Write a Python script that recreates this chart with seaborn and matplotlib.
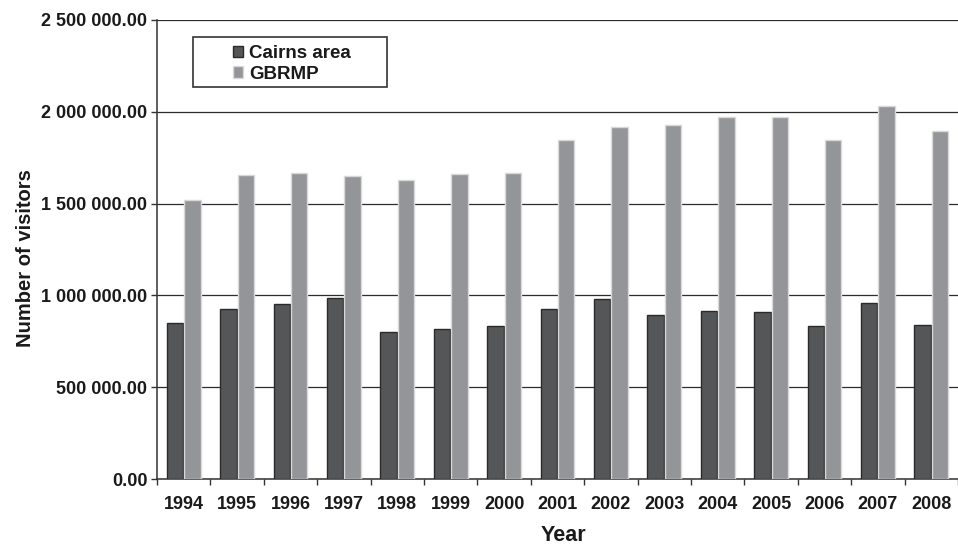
import matplotlib
matplotlib.use("Agg")
import matplotlib.pyplot as plt
from matplotlib.patches import Patch, Rectangle
from matplotlib.ticker import FuncFormatter, MultipleLocator
import seaborn as sns
import pandas as pd

# Visitor numbers by year
years = [str(y) for y in range(1994, 2009)]
cairns_area = [848000, 926000, 952000, 988000, 799000, 815000, 832000, 926000,
               981000, 895000, 917000, 910000, 832000, 959000, 839000]
gbrmp = [1518000, 1658000, 1667000, 1651000, 1629000, 1660000, 1667000, 1849000,
         1918000, 1927000, 1974000, 1974000, 1847000, 2030000, 1894000]
series_names = ["Cairns area", "GBRMP"]

df = pd.DataFrame({
    "Year": years * 2,
    "Visitors": cairns_area + gbrmp,
    "Series": [series_names[0]] * len(years) + [series_names[1]] * len(years),
})

sns.set_theme(style="white")
plt.rcParams["font.family"] = ["Liberation Sans", "DejaVu Sans"]
plt.rcParams["font.weight"] = "bold"

dark = "#555658"
light = "#939598"

fig = plt.figure(figsize=(9.58, 5.44), dpi=100)
ax = fig.add_axes([157 / 958, 1 - 479 / 544, 801 / 958, 459 / 544])

sns.barplot(data=df, x="Year", y="Visitors", hue="Series",
            palette=[dark, light], width=0.65, gap=0.06,
            saturation=1, legend=False, ax=ax, zorder=3)

# Bar outlines: dark rim on Cairns bars, pale rim on GBRMP bars
for patch in ax.containers[0]:
    patch.set_edgecolor("#2a2a2a")
    patch.set_linewidth(1.0)
for patch in ax.containers[1]:
    patch.set_edgecolor("#d8d8d8")
    patch.set_linewidth(1.0)

ax.set_xlim(-0.5, len(years) - 0.5)
ax.set_ylim(0, 2500000)
ax.yaxis.set_major_locator(MultipleLocator(500000))


def fmt(v, _):
    return f"{v:,.2f}".replace(",", " ")


ax.yaxis.set_major_formatter(FuncFormatter(fmt))

# Horizontal gridlines (none at the top limit)
ax.grid(axis="y", color="#2b2b2b", linewidth=0.9, zorder=0)
ax.grid(axis="x", visible=False)
ax.set_axisbelow(True)
fig.canvas.draw()
ax.yaxis.get_gridlines()[-1].set_visible(False)
ax.yaxis.get_gridlines()[0].set_visible(False)

for side in ["top", "right"]:
    ax.spines[side].set_visible(False)
for side in ["left", "bottom"]:
    ax.spines[side].set_color("#333333")
    ax.spines[side].set_linewidth(1.1)

# Year labels centred under each group, tick marks between groups
ax.set_xticks(range(len(years)))
ax.set_xticklabels(years)
ax.set_xticks([i - 0.5 for i in range(len(years) + 1)], minor=True)
ax.tick_params(axis="x", which="major", length=0, pad=12, labelsize=13)
ax.tick_params(axis="x", which="minor", length=4, width=1, color="#333333",
               direction="out", bottom=True)
ax.tick_params(axis="y", length=4, width=1, color="#333333", direction="out",
               left=True, pad=3, labelsize=13)
for lbl in ax.get_xticklabels() + ax.get_yticklabels():
    lbl.set_fontweight("bold")
    lbl.set_color("#1a1a1a")

ax.set_xlabel("Year", fontsize=15.5, fontweight="bold", color="#1a1a1a")
ax.set_ylabel("Number of visitors", fontsize=14.5, fontweight="bold", color="#1a1a1a")
ax.xaxis.set_label_coords(0.507, -0.1)
ax.yaxis.set_label_coords(-0.152, 0.481)

# Legend with a boxed frame
box = Rectangle((0.045, 0.854), 0.2425, 0.109, transform=ax.transAxes,
                facecolor="white", edgecolor="#333333", linewidth=1.2, zorder=5)
ax.add_patch(box)
handles = [Patch(facecolor=dark, edgecolor="#2a2a2a", linewidth=1.0),
           Patch(facecolor=light, edgecolor="#d8d8d8", linewidth=1.0)]
leg = ax.legend(handles, series_names, loc="upper left",
                bbox_to_anchor=(0.083, 0.966), frameon=False, borderpad=0,
                handlelength=0.55, handleheight=0.55, handletextpad=0.3,
                labelspacing=0.2, prop={"size": 13.5, "weight": "bold"})
leg.set_zorder(6)
for t in leg.get_texts():
    t.set_color("#1a1a1a")

fig.savefig("out.png", dpi=100)
